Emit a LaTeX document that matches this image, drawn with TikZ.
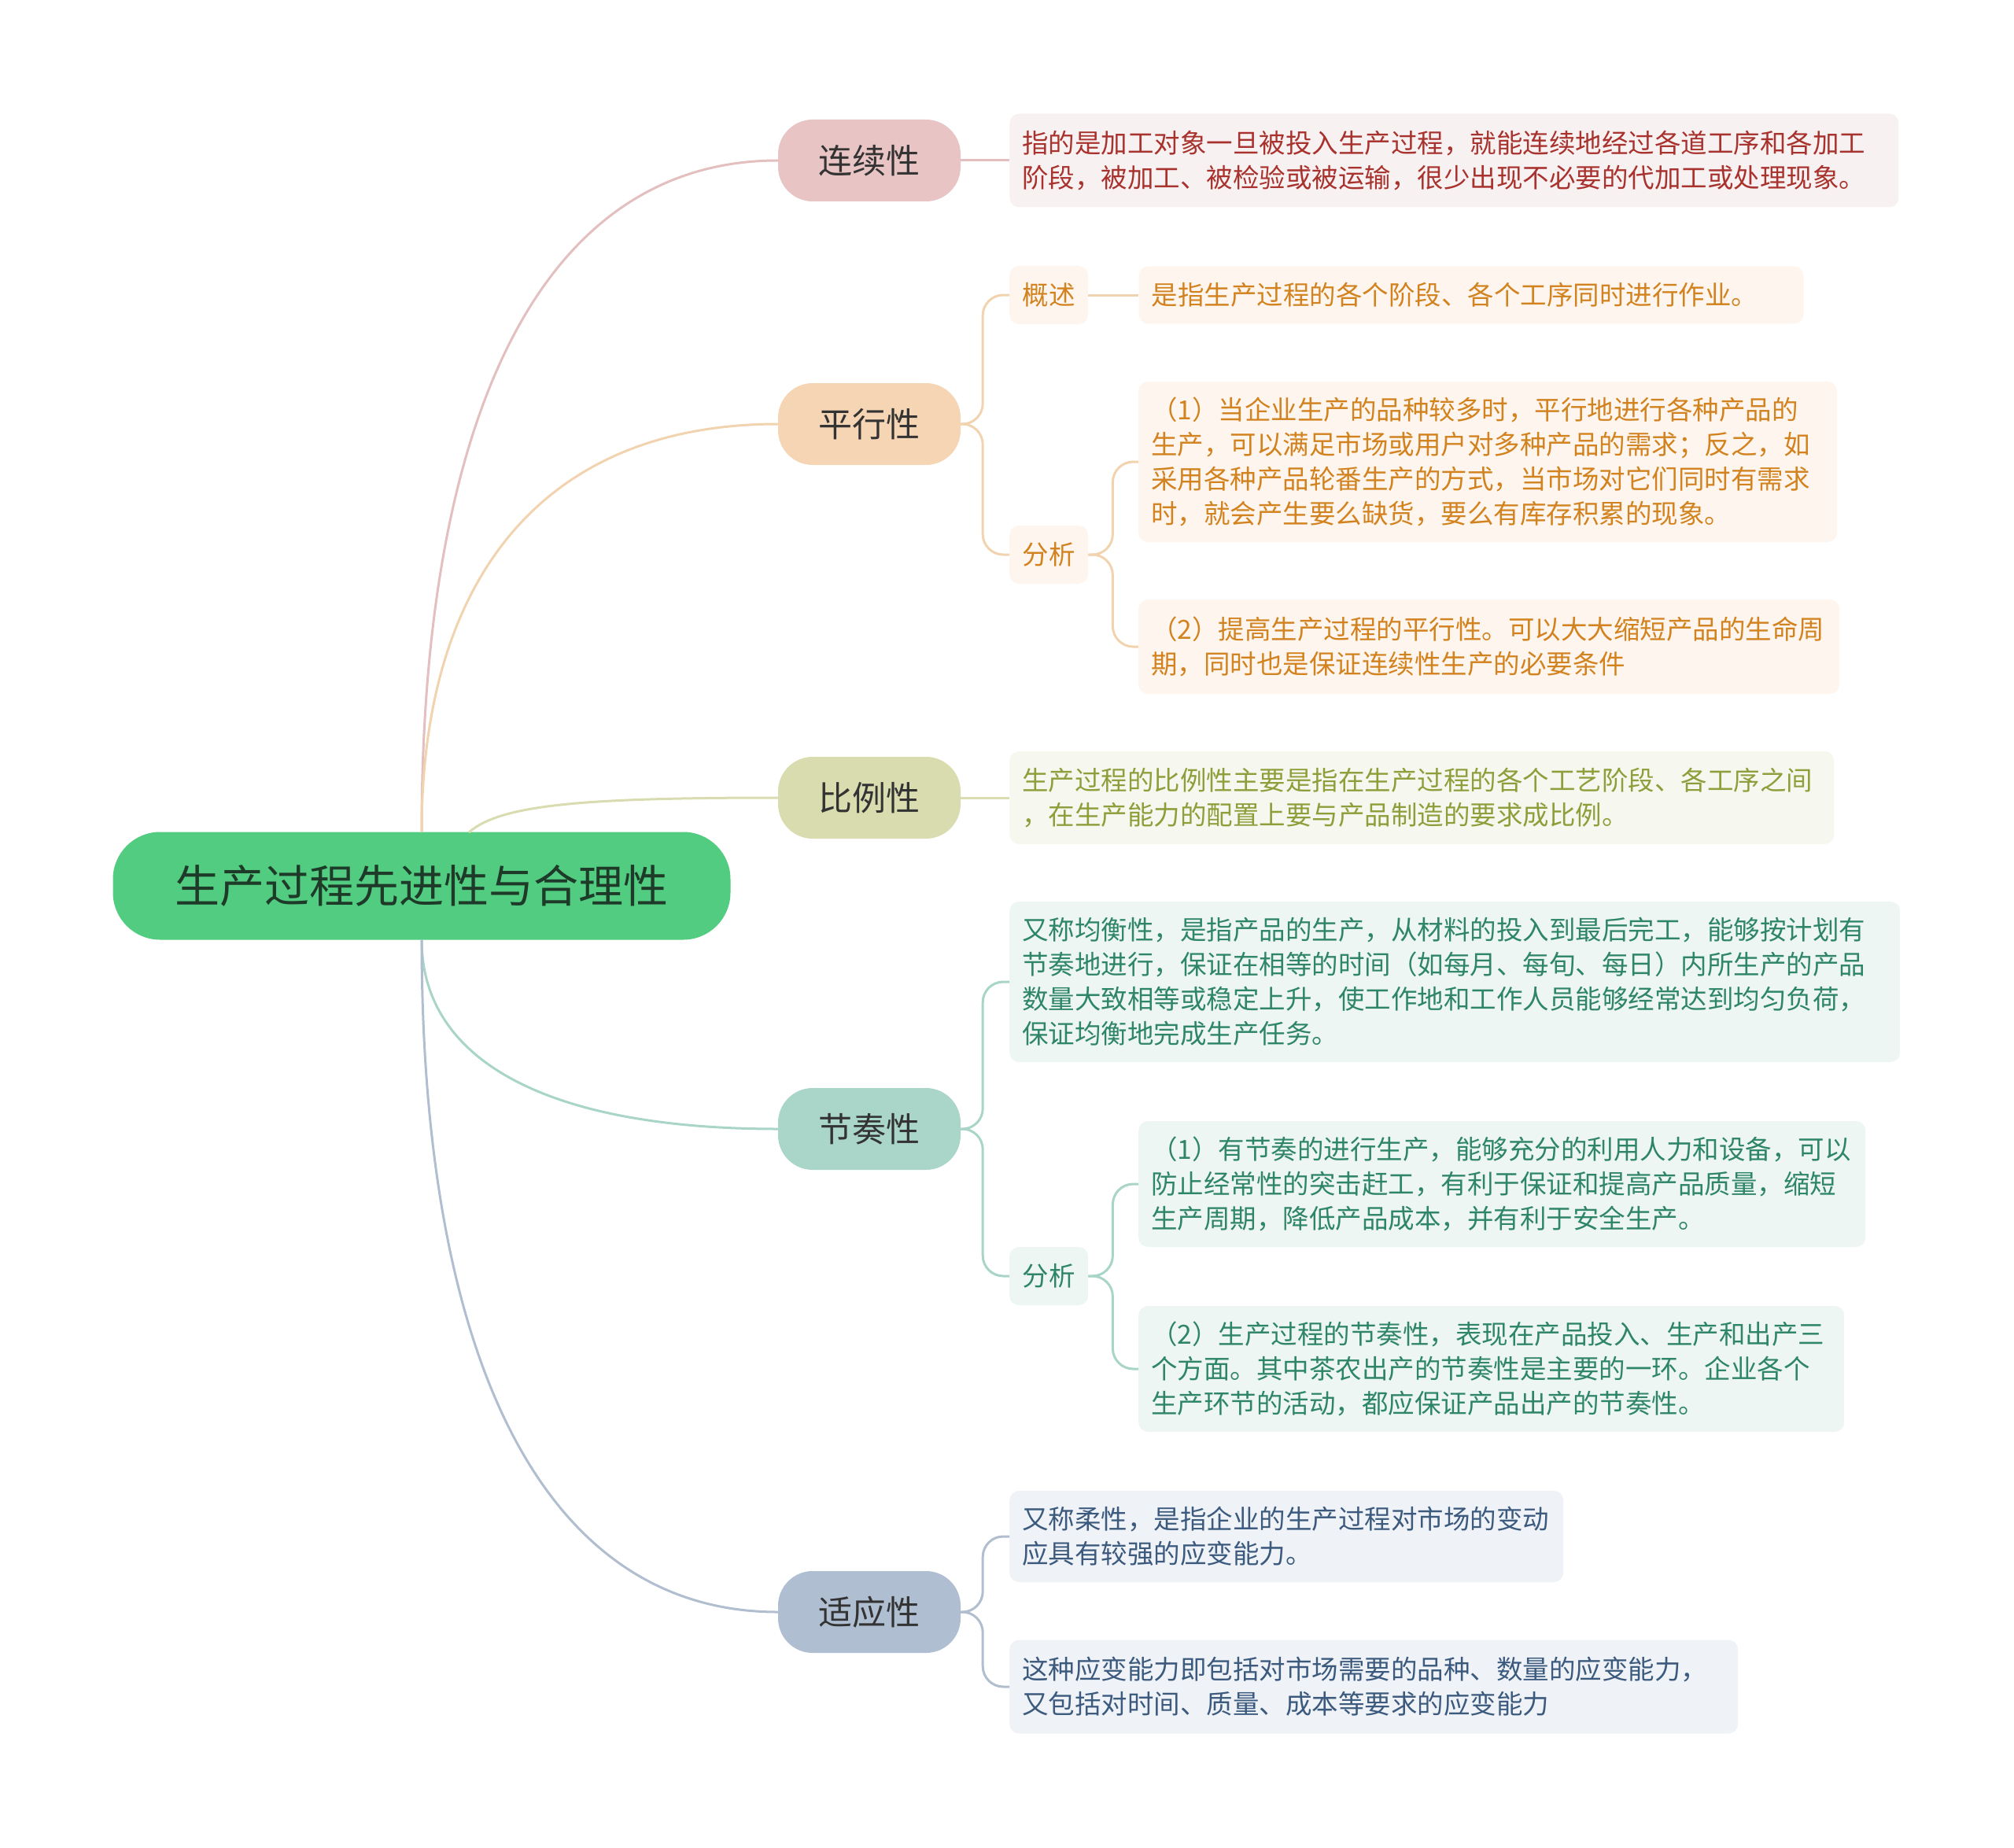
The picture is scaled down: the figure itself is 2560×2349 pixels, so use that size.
\documentclass[tikz,border=0pt]{standalone}
\usepackage{fontspec}
\setmainfont{Noto Sans CJK SC}
\usetikzlibrary{positioning}

\definecolor{rootfill}{HTML}{52CC80}
\definecolor{roottext}{HTML}{1E3A28}
\definecolor{topictext}{HTML}{333333}
\definecolor{lxfill}{HTML}{E8C4C4}\definecolor{lxline}{HTML}{E3BFBF}
\definecolor{lxleaf}{HTML}{F8F1F1}\definecolor{lxtext}{HTML}{A8322D}
\definecolor{pxfill}{HTML}{F5D5B4}\definecolor{pxline}{HTML}{F2D3B0}
\definecolor{pxleaf}{HTML}{FEF6EE}\definecolor{pxtext}{HTML}{D2821F}
\definecolor{blfill}{HTML}{D8DCAE}\definecolor{blline}{HTML}{D8DCB0}
\definecolor{blleaf}{HTML}{F6F7EF}\definecolor{bltext}{HTML}{8E9E3A}
\definecolor{jzfill}{HTML}{A9D6C9}\definecolor{jzline}{HTML}{A8D5C8}
\definecolor{jzleaf}{HTML}{EEF6F4}\definecolor{jztext}{HTML}{2E8568}
\definecolor{syfill}{HTML}{AFBED1}\definecolor{syline}{HTML}{B0BED0}
\definecolor{syleaf}{HTML}{EFF2F6}\definecolor{sytext}{HTML}{3B5A7E}

\newcommand\leaffont{\fontsize{33.5}{44}\selectfont}

\begin{document}
\begin{tikzpicture}[x=1pt,y=-1pt,
  rootbox/.style={fill=rootfill,text=roottext,rounded corners=60,minimum width=785,minimum height=137,font=\fontsize{57}{68}\selectfont},
  topic/.style={text=topictext,rounded corners=44,minimum width=232,minimum height=104,font=\fontsize{43}{52}\selectfont},
  tag/.style={rounded corners=12,minimum width=100,minimum height=74,inner sep=0,anchor=west,font=\leaffont},
  leaf/.style={rounded corners=12,inner xsep=16,inner ysep=0,align=left,anchor=west,font=\leaffont},
  link/.style={line width=3,rounded corners=26}]

  \useasboundingbox (0,0) rectangle (2560,2349);

  \def\tx{1105}\def\lx{1283}\def\cx{1447}\def\hd{62}

  \node[rootbox] (root) at (536,1126) {生产过程先进性与合理性};

  \node[topic,fill=lxfill] (lx) at (\tx,204) {连续性};
  \node[topic,fill=pxfill] (px) at (\tx,539) {平行性};
  \node[topic,fill=blfill] (bl) at (\tx,1014) {比例性};
  \node[topic,fill=jzfill] (jz) at (\tx,1435) {节奏性};
  \node[topic,fill=syfill] (sy) at (\tx,2049) {适应性};

  \node[leaf,fill=lxleaf,text=lxtext,text width=1098,minimum height=119,right=\hd of lx] (lxd)
    {指的是加工对象一旦被投入生产过程，就能连续地经过各道工序和各加工\\阶段，被加工、被检验或被运输，很少出现不必要的代加工或处理现象。};

  \node[tag,fill=pxleaf,text=pxtext] (pxa) at (\lx,375) {概述};
  \node[leaf,fill=pxleaf,text=pxtext,text width=813,minimum height=73,right=64 of pxa] (pxad)
    {是指生产过程的各个阶段、各个工序同时进行作业。};
  \node[tag,fill=pxleaf,text=pxtext] (pxb) at (\lx,705) {分析};
  \node[leaf,fill=pxleaf,text=pxtext,text width=856,minimum height=204] (pxb1) at (\cx,587)
    {（1）当企业生产的品种较多时，平行地进行各种产品的\\生产，可以满足市场或用户对多种产品的需求；反之，如\\采用各种产品轮番生产的方式，当市场对它们同时有需求\\时，就会产生要么缺货，要么有库存积累的现象。};
  \node[leaf,fill=pxleaf,text=pxtext,text width=859,minimum height=120] (pxb2) at (\cx,822)
    {（2）提高生产过程的平行性。可以大大缩短产品的生命周\\期，同时也是保证连续性生产的必要条件};

  \node[leaf,fill=blleaf,text=bltext,text width=1016,minimum height=118,right=\hd of bl] (bld)
    {生产过程的比例性主要是指在生产过程的各个工艺阶段、各工序之间\\，在生产能力的配置上要与产品制造的要求成比例。};

  \node[leaf,fill=jzleaf,text=jztext,text width=1100,minimum height=204] (jza) at (\lx,1248)
    {又称均衡性，是指产品的生产，从材料的投入到最后完工，能够按计划有\\节奏地进行，保证在相等的时间（如每月、每旬、每日）内所生产的产品\\数量大致相等或稳定上升，使工作地和工作人员能够经常达到均匀负荷，\\保证均衡地完成生产任务。};
  \node[tag,fill=jzleaf,text=jztext] (jzb) at (\lx,1622) {分析};
  \node[leaf,fill=jzleaf,text=jztext,text width=892,minimum height=160] (jzb1) at (\cx,1505)
    {（1）有节奏的进行生产，能够充分的利用人力和设备，可以\\防止经常性的突击赶工，有利于保证和提高产品质量，缩短\\生产周期，降低产品成本，并有利于安全生产。};
  \node[leaf,fill=jzleaf,text=jztext,text width=865,minimum height=160] (jzb2) at (\cx,1740)
    {（2）生产过程的节奏性，表现在产品投入、生产和出产三\\个方面。其中茶农出产的节奏性是主要的一环。企业各个\\生产环节的活动，都应保证产品出产的节奏性。};

  \node[leaf,fill=syleaf,text=sytext,text width=672,minimum height=116] (sya) at (\lx,1953)
    {又称柔性，是指企业的生产过程对市场的变动\\应具有较强的应变能力。};
  \node[leaf,fill=syleaf,text=sytext,text width=894,minimum height=119] (syb) at (\lx,2144)
    {这种应变能力即包括对市场需要的品种、数量的应变能力，\\又包括对时间、质量、成本等要求的应变能力};

  \coordinate (rs) at (596,1058);

  \draw[link,lxline] (root.north) .. controls +(0,-530) and +(-300,0) .. (lx.west);
  \draw[link,pxline] (root.north) .. controls +(0,-320) and +(-300,0) .. (px.west);
  \draw[link,blline] (rs) .. controls +(40,-35) and +(-250,0) .. (bl.west);
  \draw[link,jzline] (root.south) .. controls +(0,150) and +(-300,0) .. (jz.west);
  \draw[link,syline] (root.south) .. controls +(0,530) and +(-300,0) .. (sy.west);

  \draw[link,lxline] (lx.east) -- (lxd.west);
  \draw[link,blline] (bl.east) -- (bld.west);

  \draw[link,pxline] (px.east) -- ++(28,0) |- (pxa.west);
  \draw[link,pxline] (px.east) -- ++(28,0) |- (pxb.west);
  \draw[link,pxline] (pxa.east) -- (pxad.west);
  \draw[link,pxline] (pxb.east) -- ++(31,0) |- (pxb1.west);
  \draw[link,pxline] (pxb.east) -- ++(31,0) |- (pxb2.west);

  \draw[link,jzline] (jz.east) -- ++(28,0) |- (jza.west);
  \draw[link,jzline] (jz.east) -- ++(28,0) |- (jzb.west);
  \draw[link,jzline] (jzb.east) -- ++(31,0) |- (jzb1.west);
  \draw[link,jzline] (jzb.east) -- ++(31,0) |- (jzb2.west);

  \draw[link,syline] (sy.east) -- ++(28,0) |- (sya.west);
  \draw[link,syline] (sy.east) -- ++(28,0) |- (syb.west);

\end{tikzpicture}
\end{document}
